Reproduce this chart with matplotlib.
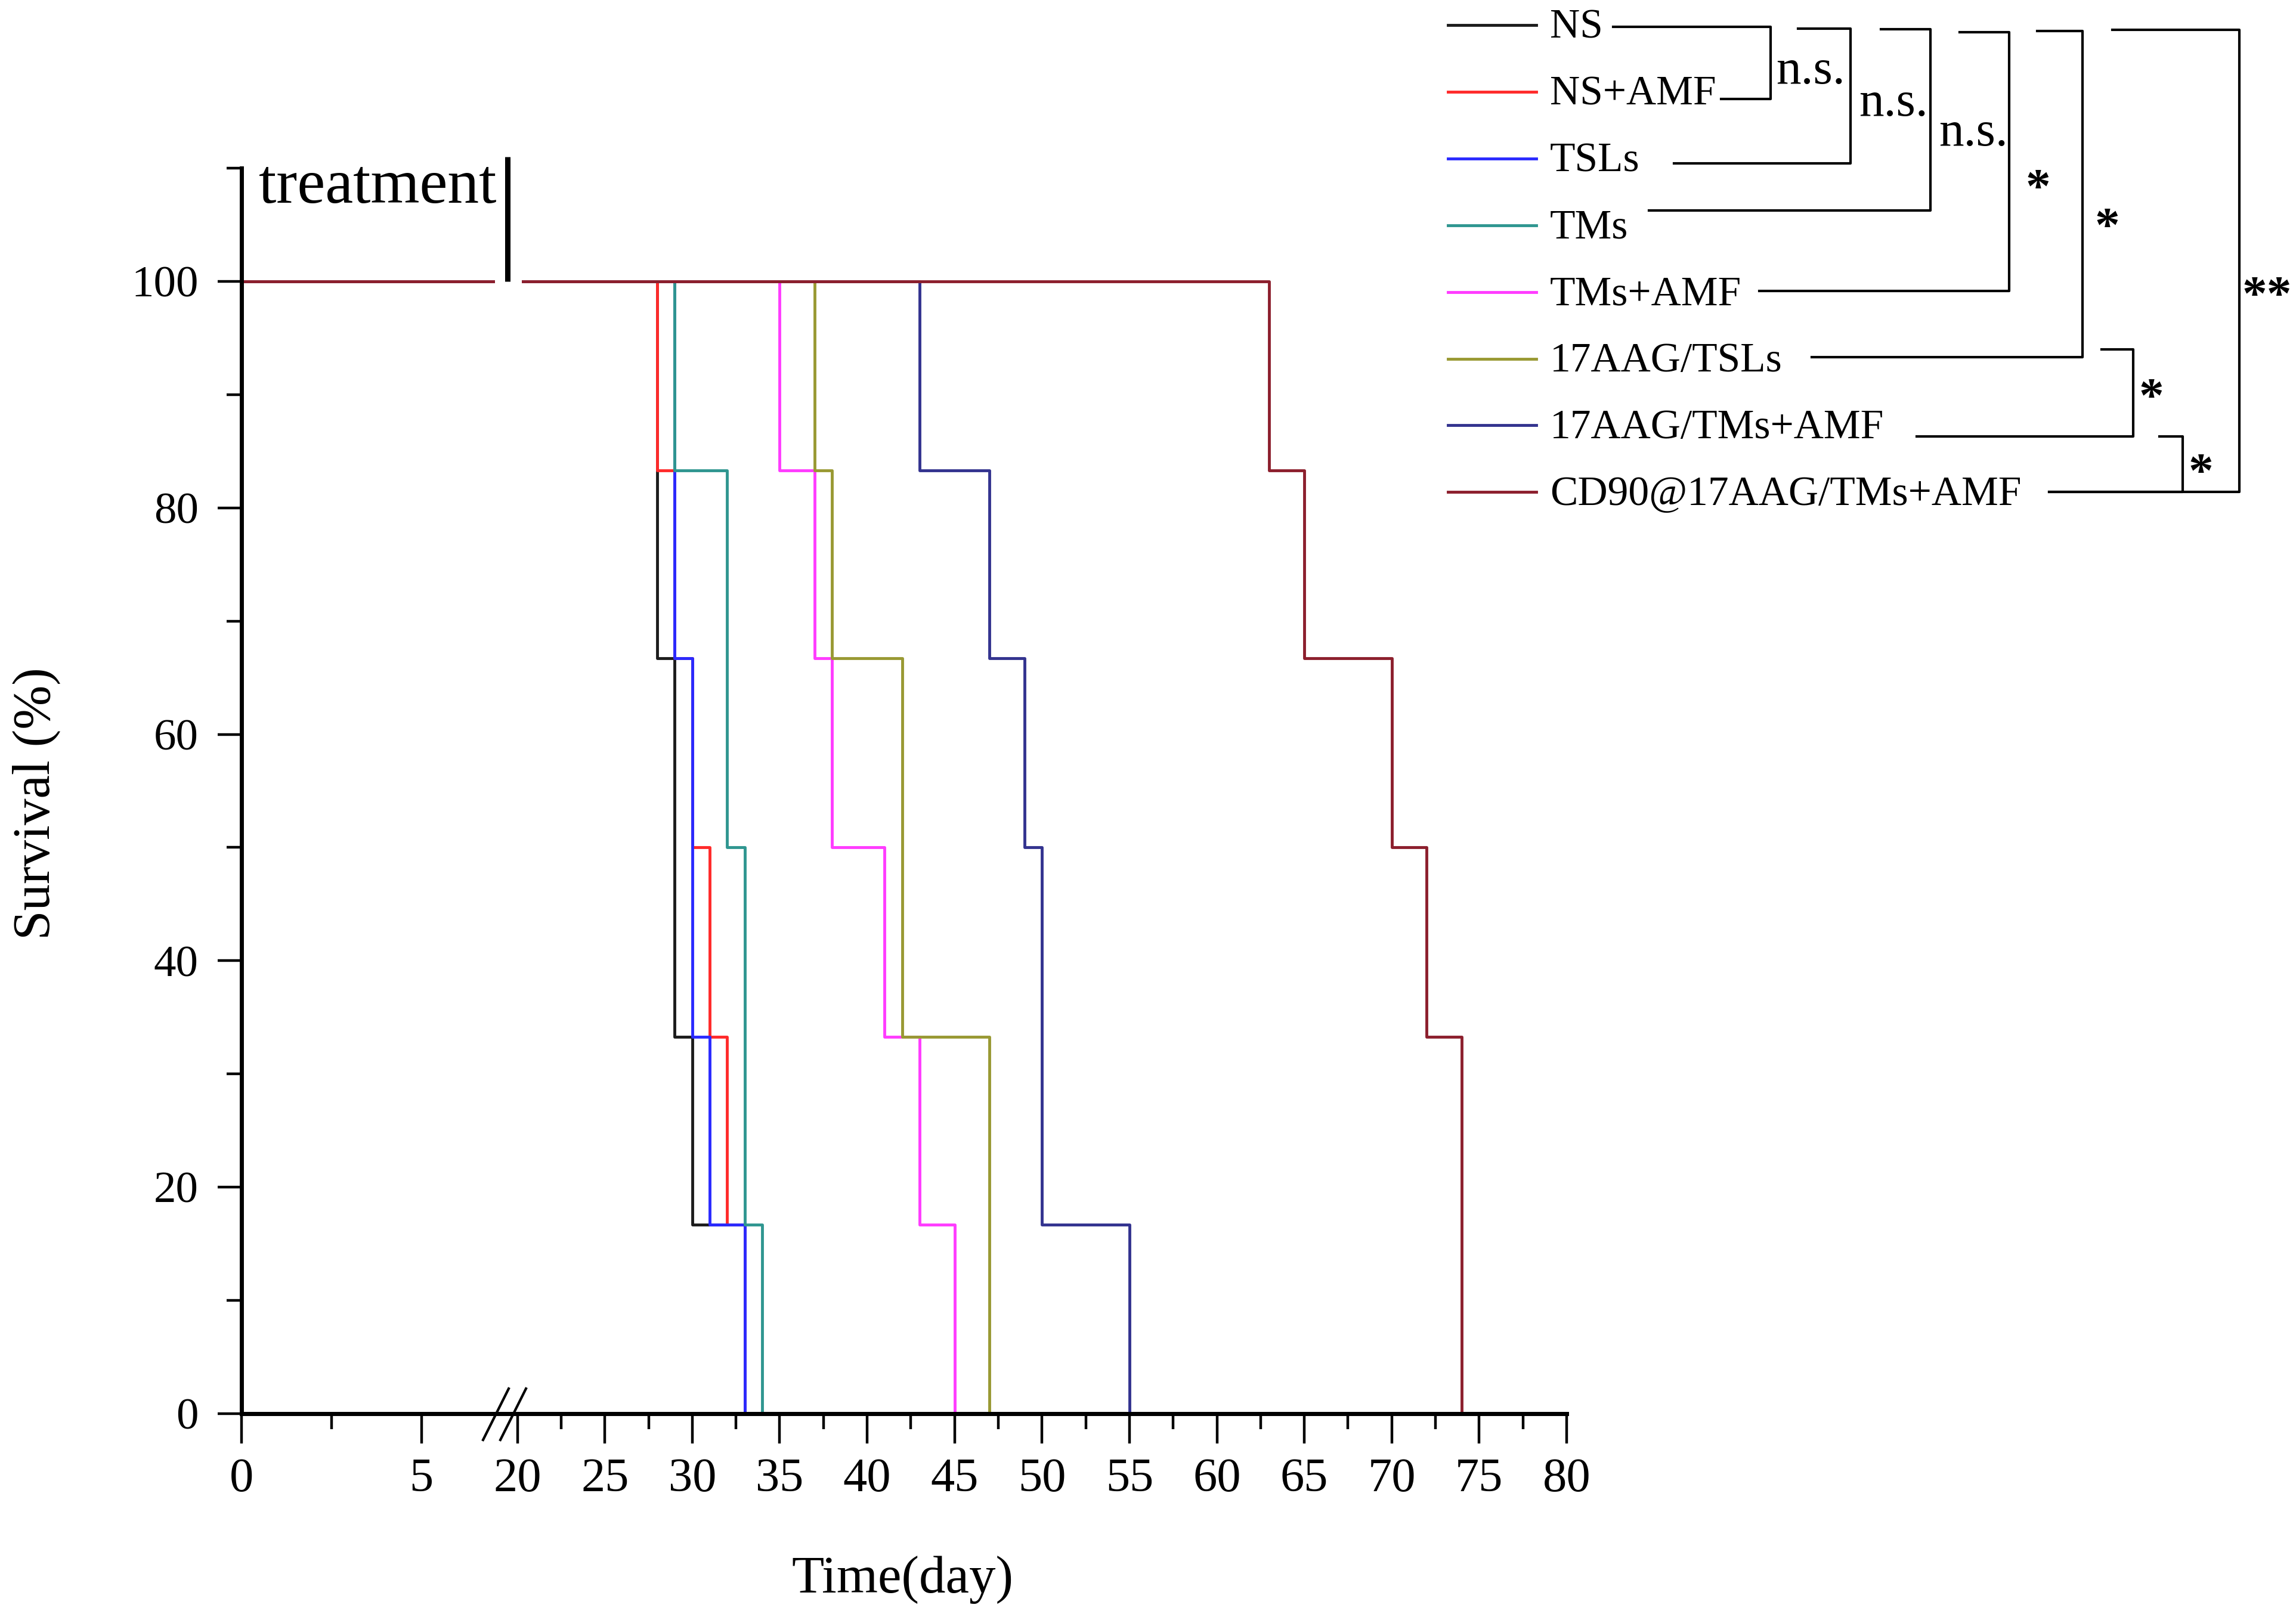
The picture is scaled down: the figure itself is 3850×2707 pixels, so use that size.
import numpy as np
import matplotlib
matplotlib.use('Agg')
import matplotlib.pyplot as plt

plt.rcParams['font.family'] = ['Liberation Serif', 'DejaVu Serif']

# Kaplan-Meier style survival curves (day of each step, % surviving after it)
groups = ['NS', 'NS+AMF', 'TSLs', 'TMs', 'TMs+AMF', '17AAG/TSLs',
          '17AAG/TMs+AMF', 'CD90@17AAG/TMs+AMF']
colors = ['#1c1c1c', '#ff2a2a', '#2a2aff', '#2f9690', '#ff3cff', '#999933',
          '#33338f', '#8c1f2d']
days = [
    [0, 28, 29, 30, 33],
    [0, 28, 29, 30, 31, 32, 33],
    [0, 29, 30, 31, 33],
    [0, 29, 32, 33, 34],
    [0, 35, 37, 38, 41, 43, 45],
    [0, 37, 38, 42, 47],
    [0, 43, 47, 49, 50, 55],
    [0, 63, 65, 70, 72, 74],
]
surv = [
    [100, 66.7, 33.3, 16.7, 0],
    [100, 83.3, 66.7, 50, 33.3, 16.7, 0],
    [100, 66.7, 33.3, 16.7, 0],
    [100, 83.3, 50, 16.7, 0],
    [100, 83.3, 66.7, 50, 33.3, 16.7, 0],
    [100, 83.3, 66.7, 33.3, 0],
    [100, 83.3, 66.7, 50, 16.7, 0],
    [100, 83.3, 66.7, 50, 33.3, 0],
]
treat_day = 7.4

x_major = [0, 5, 20, 25, 30, 35, 40, 45, 50, 55, 60, 65, 70, 75, 80]
x_minor = [2.5, 22.5, 27.5, 32.5, 37.5, 42.5, 47.5, 52.5, 57.5, 62.5, 67.5,
           72.5, 77.5]
y_major = [0, 20, 40, 60, 80, 100]
y_minor = [10, 30, 50, 70, 90, 110]

# significance brackets between legend rows
sig_labels = ['n.s.', 'n.s.', 'n.s.', '*', '*', '**', '*', '*']

# broken x axis: 0-7.5 stretched, 7.5-20 collapsed, 20-80 linear
brk_d = [-100, 0, 7.5, 20, 80, 200]
brk_u = [4.225 - 205.7, 4.225, 19.65, 20, 80, 200]


def fwd(d):
    return np.interp(d, brk_d, brk_u)


def inv(u):
    return np.interp(u, brk_u, brk_d)


W, H = 3850, 2707
fig = plt.figure(figsize=(W / 100, H / 100), dpi=100)
ax = fig.add_axes([405 / W, 1 - 2371 / H, (2627 - 405) / W, (2371 - 282) / H])
ax.set_xscale('function', functions=(fwd, inv))

for t, s, c in zip(days, surv, colors):
    ax.step(t, s, where='post', color=c, lw=3.5, zorder=2)

# gap in the 100 % line at the axis break, with the treatment marker
ax.plot([7.05, 20.25], [100, 100], color='white', lw=7, zorder=3,
        solid_capstyle='butt')
ax.plot([treat_day, treat_day], [100, 111], color='black', lw=6.5, zorder=4,
        clip_on=False, solid_capstyle='butt')

ax.set_xlim(0, 80)
ax.set_ylim(0, 110)
ax.set_xticks(x_major)
ax.set_xticks(x_minor, minor=True)
ax.set_yticks(y_major)
ax.set_yticks(y_minor, minor=True)
ax.set_xticklabels([str(v) for v in x_major], fontsize=58)
ax.set_yticklabels([str(v) for v in y_major], fontsize=54)
ax.tick_params(axis='x', which='major', length=36, width=3.2, pad=17)
ax.tick_params(axis='x', which='minor', length=19, width=3.2)
ax.tick_params(axis='y', which='major', length=29, width=3.2, pad=23)
ax.tick_params(axis='y', which='minor', length=18, width=3.2)
for side in ['top', 'right']:
    ax.spines[side].set_visible(False)
for side in ['left', 'bottom']:
    ax.spines[side].set_linewidth(5)

ax.set_xlabel('Time(day)', fontsize=64)
ax.xaxis.set_label_coords(0.499, -0.114)
ax.xaxis.label.set_va('top')
ax.set_ylabel('Survival (%)', fontsize=64)
ax.yaxis.set_label_coords(-0.137, 0.49)

# overlay in pixel coordinates for legend, brackets and the break marks
ov = fig.add_axes([0, 0, 1, 1], zorder=5)
ov.set_xlim(0, W)
ov.set_ylim(H, 0)
ov.axis('off')

ov.text(434, 340, 'treatment', fontsize=76, ha='left', va='baseline')
for x0 in [810, 839]:
    ov.plot([x0, x0 + 43], [2415, 2329], color='black', lw=3)

leg_y0, leg_dy = 42, 111.9
for i, (g, c) in enumerate(zip(groups, colors)):
    y = leg_y0 + i * leg_dy
    ov.plot([2428, 2576], [y, y], color=c, lw=3.5)
    ov.text(2599, y + 5, g, fontsize=50, ha='left', va='center')

# (top y, top x start, bottom y, bottom x start, vertical x, label x, label baseline)
brackets = [
    (45, 2705, 166, 2886, 2969, 2978, 140),
    (48, 3015, 274, 2807, 3103, 3117, 194),
    (49, 3154, 353, 2765, 3237, 3251, 244),
    (54, 3286, 488, 2950, 3369, 3417, 339),
    (52, 3416, 599, 3038, 3492, 3533, 404),
    (50, 3542, 825, 3436, 3755, 3801, 519),
    (586, 3524, 732, 3214, 3577, 3607, 690),
    (732, 3621, 825, 3436, 3660, 3690, 816),
]
for (yt, xt, yb, xb, xv, lx, ly), lab in zip(brackets, sig_labels):
    ov.plot([xt, xv, xv, xb], [yt, yt, yb, yb], color='black', lw=3)
    if lab == 'n.s.':
        ov.text(lx, ly, lab, fontsize=60, ha='left', va='baseline')
    else:
        ov.text(lx, ly, lab, fontsize=60, fontweight='bold', ha='center',
                va='baseline')

fig.savefig('out.png', dpi=100, facecolor='white')
